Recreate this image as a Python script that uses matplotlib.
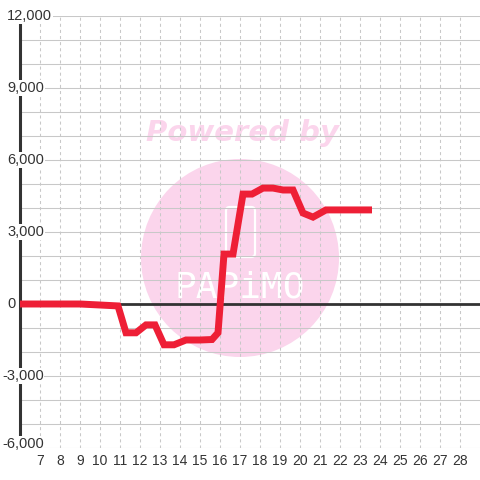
import matplotlib
matplotlib.use('Agg')
import matplotlib.pyplot as plt
from matplotlib.patches import Circle, FancyBboxPatch

plt.rcParams['font.family'] = ['Liberation Sans', 'DejaVu Sans']
plt.rcParams['lines.scale_dashes'] = False

# данные
days = [6, 9, 10.9, 11.3, 11.8, 12.3, 12.75, 13.2, 13.7, 14.3, 15.0, 15.6, 15.9,
        16.2, 16.65, 17.15, 17.6, 18.15, 18.65, 19.15, 19.65, 20.15, 20.65, 21.3, 23.6]
values = [0, 0, -80, -1200, -1200, -870, -870, -1700, -1700, -1500, -1500, -1480, -1200,
          2080, 2080, 4580, 4580, 4830, 4830, 4750, 4750, 3790, 3620, 3920, 3920]
x_ticks = list(range(7, 29))
y_ticks = [-6000, -3000, 0, 3000, 6000, 9000, 12000]
y_grid = list(range(-6000, 12001, 1000))

TEXT = '#333333'
GRID = '#c8c8c8'
PINK = '#fbd5ec'
RED = '#ee1f36'

fig = plt.figure(figsize=(4.8, 4.8), dpi=100)
ax = fig.add_axes([20 / 480, 32 / 480, 460 / 480, 432 / 480])
ax.set_xlim(6, 29)
ax.set_ylim(-6000, 12000)
ax.set_facecolor('none')

# водяной знак (под сеткой)
tf = fig.transFigure
ax.add_patch(Circle((240 / 480, 1 - 258 / 480), 99 / 480, transform=tf,
                    facecolor=PINK, edgecolor='none', zorder=0.2, clip_on=False))
ax.text(242 / 480, 1 - 133 / 480, 'Powered by', transform=tf, color=PINK, fontsize=21,
        fontweight='heavy', fontstyle='italic', family='DejaVu Sans',
        ha='center', va='center', zorder=0.2)
ax.add_patch(FancyBboxPatch((226 / 480, 1 - 257 / 480), 29 / 480, 50 / 480,
                            boxstyle='round,pad=0,rounding_size=0.008', transform=tf,
                            facecolor='none', edgecolor='white', lw=1.6, zorder=0.5,
                            clip_on=False))
ax.text(240 / 480, 1 - 288 / 480, 'PAPiMO', transform=tf, color='white', fontsize=26,
        family='DejaVu Sans Mono', ha='center', va='center', zorder=0.5)

# сетка
for v in y_grid:
    ax.axhline(v, color=GRID, lw=0.75, zorder=1)
for t in x_ticks:
    ax.axvline(t, color=GRID, lw=0.75, dashes=(2.2, 2.2), zorder=1)
ax.axhline(0, color=TEXT, lw=2, zorder=2)

ax.plot(days, values, color=RED, lw=5, solid_joinstyle='miter', solid_capstyle='butt', zorder=3)

for s in ['top', 'right', 'bottom']:
    ax.spines[s].set_visible(False)
ax.spines['left'].set_color(TEXT)
ax.spines['left'].set_linewidth(2.2)
ax.spines['left'].set_zorder(2)

ax.set_xticks(x_ticks)
ax.tick_params(axis='x', length=0, pad=4, labelsize=10, labelcolor=TEXT)
ax.set_yticks([])
for v in y_ticks:
    xoff = (2 - 20) / 460 if v < 0 else (7 - 20) / 460
    va = 'baseline' if v == min(y_ticks) else 'center'
    ax.text(xoff, v, f'{v:,}', transform=ax.get_yaxis_transform(), ha='left', va=va,
            fontsize=10.5, color=TEXT, clip_on=False, zorder=5,
            bbox=dict(facecolor='white', edgecolor='none', pad=0.5))

fig.savefig('out.png', dpi=100)
plt.close(fig)
